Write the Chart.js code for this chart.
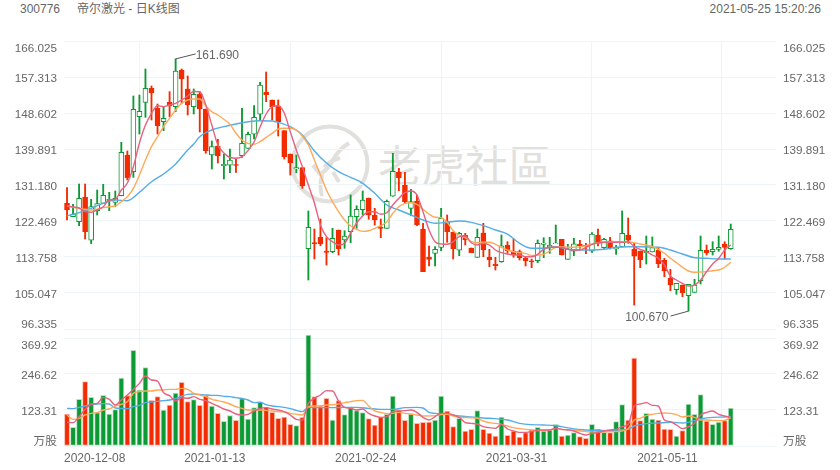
<!DOCTYPE html>
<html>
<head>
<meta charset="utf-8">
<script src="https://cdn.jsdelivr.net/npm/chart.js@4"></script>
<style>
html,body{margin:0;padding:0;background:#fff;width:840px;height:470px;overflow:hidden}
body{font-family:"Liberation Sans","Noto Sans CJK SC",sans-serif;color:#666;font-size:12px}
.t{position:absolute;top:2px;line-height:14px;white-space:nowrap}
#wm{position:absolute;left:378px;top:134px;font:43.5px/60px "Noto Sans CJK SC",sans-serif;color:#e1e0dd;letter-spacing:0}
#logo{position:absolute;left:285px;top:115px}
canvas{position:absolute;left:0}
</style>
</head>
<body>
<svg id="logo" width="100" height="100" viewBox="285 115 100 100" fill="none" stroke="#e1e0dd" stroke-width="4">
<circle cx="330" cy="164" r="37.5"/>
<path d="M349 143Q338 150 333 160Q329 168 322 173"/>
<path d="M340 158Q331 160 324 167M313 165Q318 172 322 176Q319 185 322 196M333 172L339 182"/>
</svg>
<div id="wm">老虎社區</div>
<div class="t" style="left:20px">300776</div>
<div class="t" style="left:77px">帝尔激光 - 日K线图</div>
<div class="t" style="right:19px">2021-05-25 15:20:26</div>
<canvas id="k" width="840" height="338" style="top:0"></canvas>
<canvas id="v" width="840" height="135" style="top:335px"></canvas>
<script>
const openP=[126.75,123.51,122.30,128.28,117.80,124.96,126.75,127.38,126.99,128.59,138.44,134.40,147.71,151.19,154.58,149.74,146.50,151.19,150.13,159.01,154.41,150.13,153.20,149.57,138.44,140.62,135.85,135.95,136.14,138.27,140.06,143.45,148.29,153.69,151.75,150.30,144.32,138.68,135.05,135.37,115.77,117.22,118.52,115.21,115.04,120.29,117.87,119.88,123.51,125.20,128.03,123.92,121.02,120.70,128.45,134.33,131.18,125.54,127.31,120.53,113.76,114.65,116.10,122.30,119.81,115.38,119.01,115.94,113.68,119.56,113.76,112.06,112.62,116.59,115.21,115.04,113.51,112.86,112.86,116.83,116.18,116.98,118.04,113.20,115.14,116.83,116.61,115.14,119.01,116.01,117.70,115.69,116.18,119.08,115.62,115.21,114.80,114.97,115.45,112.96,108.67,105.84,106.98,104.39,105.21,108.02,115.38,115.04,115.62,116.90,115.77];
const closeP=[125.13,124.16,127.96,119.88,125.93,126.70,128.69,127.72,127.96,139.09,132.95,149.50,149.02,154.58,153.52,145.53,147.32,150.30,158.77,156.83,150.54,153.13,149.57,139.48,140.50,138.20,136.19,137.23,135.90,141.27,143.45,147.56,155.38,153.03,150.13,146.50,138.03,136.58,135.37,131.01,120.94,116.90,116.90,114.85,118.28,115.77,118.84,123.68,125.30,127.55,123.92,122.71,120.70,127.23,134.50,132.95,127.14,127.14,121.57,110.20,113.20,115.62,123.12,119.88,115.77,119.49,117.87,114.80,118.52,115.52,113.03,111.65,116.49,115.28,114.31,113.51,112.79,112.55,117.07,117.15,116.59,117.15,114.24,115.69,116.97,116.42,116.37,119.32,117.07,118.04,115.93,116.10,119.49,117.80,113.95,113.10,115.14,116.01,112.13,110.37,106.98,107.39,105.12,107.15,106.98,115.38,114.80,115.62,116.10,116.10,120.46];
const highP=[130.53,126.51,131.42,131.42,127.72,129.97,131.35,129.41,129.73,141.51,139.41,152.72,152.96,159.25,155.14,150.78,150.13,153.76,161.69,159.25,157.56,154.41,153.76,149.57,141.83,142.24,138.61,139.89,137.40,149.74,144.01,150.37,156.03,158.53,151.75,151.75,144.32,138.68,138.44,135.37,124.89,120.53,122.95,118.43,120.70,120.29,120.12,128.76,126.17,129.73,128.03,125.54,122.95,127.55,138.85,135.22,134.25,130.14,128.76,121.91,116.42,116.25,125.54,123.92,119.81,119.73,119.49,115.94,120.53,121.91,115.62,113.68,119.08,117.46,118.11,115.45,113.83,113.27,117.87,118.43,118.52,121.50,118.04,116.83,118.28,117.80,117.07,119.64,120.53,118.28,118.52,116.59,124.89,123.19,117.07,115.21,118.84,118.60,116.01,113.44,110.78,107.39,106.98,107.15,108.36,118.84,116.66,117.46,118.84,117.46,121.74];
const lowP=[122.71,123.51,121.33,118.11,117.00,123.92,126.75,124.96,125.93,128.59,132.39,133.04,143.52,147.56,146.91,143.52,144.32,147.71,148.92,150.95,148.12,148.36,144.01,138.85,135.05,136.50,132.63,134.16,134.25,137.88,140.06,142.31,146.91,151.34,146.91,143.04,137.47,133.60,134.16,130.38,108.19,113.27,116.49,111.82,114.80,114.24,115.86,117.22,120.70,123.92,122.88,121.50,118.43,120.70,128.45,129.80,126.75,123.75,121.33,110.20,111.58,111.58,115.28,117.31,113.27,114.07,116.66,114.80,113.68,113.83,111.41,110.61,112.47,114.65,113.68,113.03,111.58,111.17,112.38,113.59,114.65,117.00,114.24,113.20,114.07,115.86,114.55,114.89,116.42,115.86,115.69,114.41,116.18,117.07,102.14,111.17,112.06,114.97,111.17,109.00,105.60,104.73,104.15,100.67,105.21,107.22,114.24,114.24,115.14,113.27,115.62];
const volume=[109.6,63.9,159.8,220.3,166.7,114.2,173.5,109.6,124.4,232.9,172.4,327.7,191.8,268.3,156.4,169,123.3,140.4,181.5,218.1,151.8,158.7,139.3,172.4,137,111.9,84.5,103.9,87.9,162.1,92.5,131.3,149.6,132.4,115.3,94.8,99.3,74.2,69.6,98.2,380,169,137,163.3,89,155.3,107.3,131.3,121,114.2,93.6,71.9,99.3,108.5,171.3,123.3,87.9,109.6,77.6,81.1,82.2,89,171.3,119.9,66.2,94.8,51.4,57.1,121,57.1,44.5,34.3,99.3,36.5,51.4,30.8,45.7,55.9,63.9,51.4,54.8,74.2,34.3,37.7,45.7,32,26.3,74.2,58.2,46.8,45.7,83.3,141.6,89,301.4,86.8,111.9,92.5,89,58.2,57.1,34.3,52.5,143.9,108.5,175.8,85.6,74.2,82.2,86.8,130.2];

const priceMa5=[126.10,125.86,125.61,124.72,124.57,125.13,125.93,127.55,127.72,129.97,131.66,135.61,141.34,145.70,148.53,150.37,150.13,150.54,150.95,151.75,152.72,153.81,153.76,150.54,145.70,140.86,138.92,137.83,137.67,138.03,139.53,141.59,145.22,148.36,150.13,150.35,148.60,144.08,139.65,135.61,131.18,126.82,121.50,118.67,117.46,116.66,117.07,119.56,121.98,123.68,124.72,124.72,124.09,124.48,126.34,127.96,129.32,129.73,128.76,124.72,120.29,117.46,116.90,116.83,117.46,118.67,118.84,117.22,116.66,117.07,116.66,115.45,114.80,114.48,114.24,114.24,113.83,113.83,114.41,115.62,116.10,116.10,116.10,115.62,115.45,115.45,116.10,116.83,117.22,117.31,117.31,117.31,117.31,117.46,116.25,115.62,115.04,114.24,113.44,111.82,109.16,108.19,107.39,106.74,106.98,108.19,110.20,112.06,113.44,115.45,116.66];
const priceMa10=[126.17,125.78,125.54,125.30,125.13,125.30,125.69,125.93,126.10,127.14,128.35,130.38,133.60,137.23,140.45,142.87,145.29,147.32,149.33,150.95,151.75,151.99,151.99,150.30,148.92,148.12,147.08,145.87,143.69,142.07,141.27,141.03,141.66,142.72,143.69,144.73,144.90,144.90,144.49,143.04,140.86,137.23,133.60,129.97,127.14,124.72,122.71,121.33,120.46,119.97,120.12,120.70,121.33,122.30,124.33,125.93,126.75,126.90,126.51,125.30,124.16,123.36,123.27,122.15,120.12,119.08,118.43,117.46,117.22,117.31,117.31,116.83,116.10,115.45,115.04,114.80,114.65,114.07,114.24,114.41,115.21,116.10,116.25,116.10,116.10,116.25,116.49,116.90,117.22,117.39,117.46,117.46,117.46,117.46,117.22,116.90,116.66,116.25,115.62,114.65,113.44,112.38,111.27,110.37,110.05,110.13,110.20,110.44,110.61,111.27,112.47];
const priceMa20Idx=[0,2,4,6,8,10,12,14,16,18,20,21,22,24,26,28,30,32,34,35,37,39,40,41,43,45,47,49,51,53,55,57,59,61,63,65,67,69,71,73,75,77,79,81,83,85,87,89,91,93,95,98,100,102,104,106,108,110];
const priceMa20=[123.68,124.48,125.54,126.75,127.55,127.38,129.41,131.98,133.84,136.26,139.65,141.10,142.87,144.49,145.29,145.94,146.50,146.74,146.67,146.35,145.29,143.28,141.34,139.41,136.50,134.40,133.04,131.59,129.17,126.34,125.13,123.92,122.71,121.91,122.15,122.47,122.15,121.33,120.29,119.32,117.07,115.86,115.86,116.25,115.62,115.45,115.45,115.62,116.10,116.25,116.25,116.10,115.45,114.48,113.59,113.44,113.27,113.27];

const volMa5=[81.1,79.9,100.5,125.6,143.9,146.1,166.7,159.8,140.4,157.6,174.7,194.1,214.6,239.8,226.1,222.6,182.7,172.4,154.1,165.5,163.3,169,159.8,155.3,146.1,137,126.7,119.9,109.6,106.2,108.5,119.9,129,131.3,126.7,123.3,117.6,106.2,91.3,89,146.1,163.3,174.7,189.5,188.4,154.1,132.4,129,123.3,126.7,111.9,102.8,98.2,100.5,117.6,119.9,121,123.3,115.3,98.2,89,100.5,111.9,111.9,106.2,98.2,79.9,77.6,75.4,66.2,62.8,60.5,74.2,58.2,51.4,46.8,46.8,49.1,54.8,54.8,54.8,60.5,57.1,54.8,51.4,43.4,37.7,43.4,45.7,51.4,54.8,57.1,66.2,74.2,137,143.9,148.4,139.3,137,89,83.3,71.9,59.4,66.2,77.6,106.2,115.3,119.9,108.5,102.8,98.2];
const volMa10Idx=[0,1,2,3,4,5,6,7,8,10,11,12,13,14,15,16,17,18,19,20,21,22,23,24,25,26,27,28,29,30,32,34,35,36,37,38,39,40,41,43,45,46,47,48,49,50,51,52,53,54,55,56,57,58,59,61,62,63,64,65,67,68,69,70,71,72,73,74,75,76,77,78,80,81,82,84,86,88,90,92,93,94,95,96,97,98,99,100,101,102,103,104,105,106,107,108,109,110];
const volMa10=[106.2,91.3,94.8,106.2,111.9,114.2,123.3,126.7,137,151.8,180.4,186.1,188.4,188.4,191.8,191.8,194.1,194.1,197.5,194.1,180.4,174.7,169,159.8,155.3,150.7,143.9,134.7,129,123.3,123.3,119.9,117.6,116.5,111.9,108.5,106.2,134.7,137,140.4,143.9,148.4,151.8,155.3,156.4,137,119.9,115.3,110.7,111.9,115.3,111.9,109.6,106.2,102.8,103.9,107.3,108.5,102.8,98.2,97,94.8,85.6,79.9,77.6,74.2,68.5,62.8,59.4,57.1,54.8,52.5,54.8,60.5,57.1,54.8,49.1,48,49.1,51.4,59.4,89,94.8,103.9,108.5,111.9,113,111.9,107.3,99.3,102.8,98.2,89,89,87.9,86.8,87.9,97];
const volMa20Idx=[0,1,2,3,4,5,6,7,8,10,11,12,13,14,15,16,17,18,19,20,21,22,23,24,25,26,27,28,29,30,31,32,33,34,35,36,37,38,39,40,42,44,46,48,50,52,54,56,58,59,60,61,63,65,67,69,71,73,75,77,79,81,82,84,86,88,90,92,93,94,96,98,100,102,104,105,107,109,110];
const volMa20=[129,127.9,132.4,137,141.6,143.9,145,143.9,130.2,127.9,134.7,139.3,148.4,150.7,153,155.3,157.6,162.1,171.3,177,178.1,177,174.7,173.5,173.5,170.1,169,165.5,163.3,157.6,148.4,149.6,141.6,137,134.7,132.4,127.9,122.2,117.6,132.4,131.3,131.3,132.4,132.4,129,125.6,125.6,131.3,132.4,130.2,115.3,111.9,108.5,102.8,99.3,95.9,93.6,89,77.6,73.1,71.9,69.6,66.2,58.2,54.8,53.7,52.5,55.9,57.1,68.5,76.5,78.8,81.1,78.8,86.8,92.5,98.2,99.3,101.6];

const priceTicks=[96.335,105.047,113.758,122.469,131.180,139.891,148.602,157.313,166.025];
const priceTickLabels=["96.335","105.047","113.758","122.469","131.180","139.891","148.602","157.313","166.025"];
const volTicks=[0,123.31,246.62,369.92];
const volTickLabels=["万股","123.31","246.62","369.92"];
const dateTicks=[-0.5,24.5,49.5,74.5,99.5,117.5];
const dateLabels=["2020-12-08","2021-01-13","2021-02-24","2021-03-31","2021-05-11",""];

const RED='#f22b00',GREEN='#0b9a33',PINK='#e8617f',ORANGE='#ffa958',BLUE='#56ade6',GRID='#edf5f9',TEXT='#666';
const FAMILY='"Liberation Sans","Noto Sans CJK SC",sans-serif';
const isUp=i=>closeP[i]>=openP[i];
const idx=openP.map((_,i)=>i);
const line=(label,xs,ys,color,yAxisID)=>({type:'line',label,yAxisID,data:ys.map((y,k)=>({x:xs?xs[k]:k,y})),borderColor:color,borderWidth:1.4,pointRadius:0,cubicInterpolationMode:'monotone',fill:false,clip:false});
const commonX=(height,extra)=>({type:'linear',min:-0.5,max:117.5,offset:false,
  afterBuildTicks(s){s.ticks=dateTicks.map(value=>({value}));},
  afterFit(s){s.height=height;s.paddingLeft=0;s.paddingRight=0;},
  border:{display:false},...extra});
const yAxis=(pos,ticks,labels,min,max)=>({type:'linear',position:pos,min,max,
  afterBuildTicks(s){s.ticks=ticks.map(value=>({value}));},
  afterFit(s){s.width=64;s.paddingTop=0;s.paddingBottom=0;},
  border:{display:false},
  grid:{display:pos==='left',color:GRID,drawTicks:false},
  ticks:{padding:7,color:TEXT,autoSkip:false,
    // two-line labels with a blank line nudge each text vertically; the line height sets the nudge
    font:c=>({family:FAMILY,size:11.7,lineHeight:c.index===0?'8px':c.index===ticks.length-1?'16px':'4px'}),
    callback:(v,i)=>i===0?[labels[i],'']:['',labels[i]]}});

const leaders={id:'leaders',afterDatasetsDraw(c){
  const x=c.scales.x,y=c.scales.y,ctx=c.ctx;
  const hi=highP.indexOf(Math.max(...highP)),lo=lowP.indexOf(Math.min(...lowP));
  ctx.save();ctx.strokeStyle='#555';ctx.lineWidth=1;ctx.fillStyle=TEXT;ctx.font='12px "Liberation Sans"';ctx.textBaseline='middle';
  const hx=x.getPixelForValue(hi),hy=y.getPixelForValue(highP[hi]);
  ctx.beginPath();ctx.moveTo(hx,hy);ctx.lineTo(hx+20,hy-5);ctx.stroke();
  ctx.textAlign='left';ctx.fillText(highP[hi].toFixed(3),hx+20,hy-3.5);
  const lx=x.getPixelForValue(lo),ly=y.getPixelForValue(lowP[lo]);
  ctx.beginPath();ctx.moveTo(lx,ly);ctx.lineTo(lx-18,ly+5);ctx.stroke();
  ctx.textAlign='right';ctx.fillText(lowP[lo].toFixed(3),lx-20,ly+6.5);
  ctx.restore();
}};

new Chart(document.getElementById('k'),{
  type:'bar',
  plugins:[leaders],
  data:{datasets:[
    line('MA5',null,priceMa5,PINK,'y'),
    line('MA10',null,priceMa10,ORANGE,'y'),
    line('MA20',priceMa20Idx,priceMa20,BLUE,'y'),
    {label:'body',yAxisID:'y',grouped:false,barThickness:5,borderWidth:1,borderSkipped:false,
     data:idx.map(i=>({x:i,y:[openP[i],closeP[i]]})),
     backgroundColor:idx.map(i=>isUp(i)?'#fff':RED),borderColor:idx.map(i=>isUp(i)?GREEN:RED)},
    {label:'wick',yAxisID:'y',grouped:false,barThickness:1.2,borderWidth:0,
     data:idx.map(i=>({x:i,y:[lowP[i],highP[i]]})),
     backgroundColor:idx.map(i=>isUp(i)?GREEN:RED)}
  ]},
  options:{responsive:false,animation:false,events:[],
    layout:{padding:{top:41,bottom:0,left:0,right:0}},
    plugins:{legend:{display:false},tooltip:{enabled:false}},
    scales:{
      x:commonX(9,{grid:{color:GRID,drawTicks:true,tickLength:9,tickColor:GRID},ticks:{display:false,autoSkip:false}}),
      y:yAxis('left',priceTicks,priceTickLabels,96.335,166.025),
      yR:yAxis('right',priceTicks,priceTickLabels,96.335,166.025)
    }}
});

new Chart(document.getElementById('v'),{
  type:'bar',
  data:{datasets:[
    line('MA5',null,volMa5,PINK,'y'),
    line('MA10',volMa10Idx,volMa10,ORANGE,'y'),
    line('MA20',volMa20Idx,volMa20,BLUE,'y'),
    {label:'volume',yAxisID:'y',grouped:false,barThickness:5.2,borderWidth:1,borderSkipped:false,clip:false,
     data:idx.map(i=>({x:i,y:volume[i]})),
     backgroundColor:idx.map(i=>isUp(i)?GREEN:RED),borderColor:idx.map(i=>isUp(i)?'#bcdfc6':'#f9bdb0')}
  ]},
  options:{responsive:false,animation:false,events:[],
    layout:{padding:{top:3,bottom:0,left:0,right:0}},
    plugins:{legend:{display:false},tooltip:{enabled:false}},
    scales:{
      x:commonX(24,{grid:{color:GRID,drawTicks:false},
        ticks:{padding:7,color:TEXT,font:{family:FAMILY,size:12,lineHeight:1},autoSkip:false,maxRotation:0,align:'inner',callback:(v,i)=>dateLabels[i]}}),
      y:yAxis('left',volTicks,volTickLabels,0,369.92),
      yR:yAxis('right',volTicks,volTickLabels,0,369.92)
    }}
});
</script>
</body>
</html>
